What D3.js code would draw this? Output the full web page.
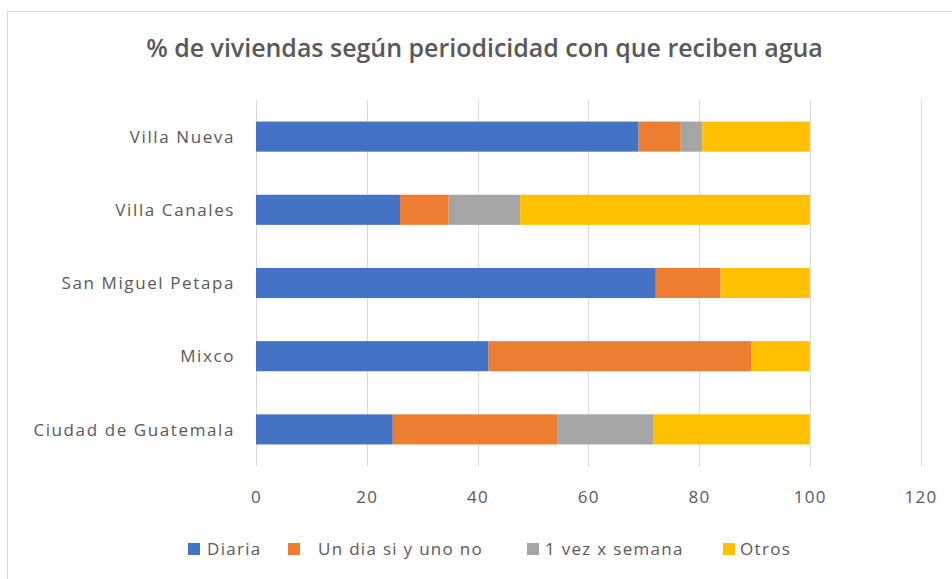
<!DOCTYPE html>
<html>
<head>
<meta charset="utf-8">
<script src="https://cdn.jsdelivr.net/npm/d3@7"></script>
<style>
  html, body { margin: 0; padding: 0; background: #fff; }
  svg { display: block; }
  text { font-family: "Open Sans", "DejaVu Sans", sans-serif; fill: #595959; }
</style>
</head>
<body>
<svg id="chart" width="952" height="579"></svg>
<script>
const title = "% de viviendas según periodicidad con que reciben agua";
const categories = ["Villa Nueva", "Villa Canales", "San Miguel Petapa", "Mixco", "Ciudad de Guatemala"];
const seriesNames = ["Diaria", "Un dia si y uno no", "1 vez x semana", "Otros"];
const diaria     = [69.1, 26.0, 72.2, 42.0, 24.7];
const unDiaSiNo  = [7.6, 8.8, 11.7, 47.4, 29.8];
const unaVezSem  = [3.9, 12.9, 0.0, 0.0, 17.2];
const otros      = [19.4, 52.3, 16.1, 10.6, 28.3];
const xTicks = [0, 20, 40, 60, 80, 100, 120];
const colors = ["#4472C4", "#ED7D31", "#A5A5A5", "#FFC000"];

const seriesValues = [diaria, unDiaSiNo, unaVezSem, otros];
const rows = categories.map((c, i) => {
  const r = { cat: c };
  seriesNames.forEach((s, j) => r[s] = seriesValues[j][i]);
  return r;
});

const svg = d3.select("#chart");

// outer chart border
svg.append("rect").attr("x", 7.5).attr("y", 11.5).attr("width", 1000).attr("height", 1000)
  .attr("fill", "none").attr("stroke", "#D9D9D9").attr("stroke-width", 1);

const x = d3.scaleLinear().domain([0, 120]).range([256, 920.5]);
const y = d3.scaleBand().domain(categories).range([100, 466])
  .paddingInner(0.589).paddingOuter(0.2945);

// gridlines
svg.append("g").selectAll("line").data(xTicks).join("line")
  .attr("x1", d => Math.round(x(d)) + 0.5).attr("x2", d => Math.round(x(d)) + 0.5)
  .attr("y1", 100).attr("y2", 466)
  .attr("stroke", "#D9D9D9").attr("stroke-width", 1);

// stacked bars
const stack = d3.stack().keys(seriesNames)(rows);
svg.append("g").selectAll("g").data(stack).join("g")
  .attr("fill", (d, i) => colors[i])
  .selectAll("rect").data(d => d).join("rect")
  .attr("x", d => x(d[0]))
  .attr("width", d => Math.max(0, x(d[1]) - x(d[0])))
  .attr("y", d => y(d.data.cat))
  .attr("height", y.bandwidth());

// x axis labels
const xAxis = d3.axisBottom(x).tickValues(xTicks).tickSize(0).tickPadding(0);
const gx = svg.append("g").attr("transform", "translate(0,491)").call(xAxis);
gx.select(".domain").remove();
gx.selectAll("text").attr("font-size", 17).attr("letter-spacing", "1.3px")
  .attr("fill", "#595959").attr("dy", "0.71em").attr("font-family", "Open Sans");

// y axis labels
const yAxis = d3.axisLeft(y).tickSize(0).tickPadding(0);
const gy = svg.append("g").attr("transform", "translate(235,0)").call(yAxis);
gy.select(".domain").remove();
gy.selectAll("text").attr("font-size", 17).attr("letter-spacing", "1.6px")
  .attr("fill", "#595959").attr("font-family", "Open Sans").attr("dy", "0.36em");

// title
const t = svg.append("text").attr("x", 484.5).attr("y", 57).attr("text-anchor", "middle")
  .attr("font-size", 23).attr("font-weight", 600).text(title);
const tw = t.node().getComputedTextLength();
t.attr("font-size", 23 * 677 / tw);

// legend
const legendX = [188, 288, 527, 723];
const lg = svg.append("g").selectAll("g").data(seriesNames).join("g")
  .attr("transform", (d, i) => `translate(${legendX[i]},543)`);
lg.append("rect").attr("width", 12).attr("height", 12).attr("fill", (d, i) => colors[i]);
lg.append("text").attr("x", (d, i) => i === 0 ? 19 : (i === 1 ? 30 : (i === 2 ? 18 : 17)))
  .attr("y", 12).attr("font-size", 17).attr("letter-spacing", "1.3px").text(d => d);
</script>
</body>
</html>
